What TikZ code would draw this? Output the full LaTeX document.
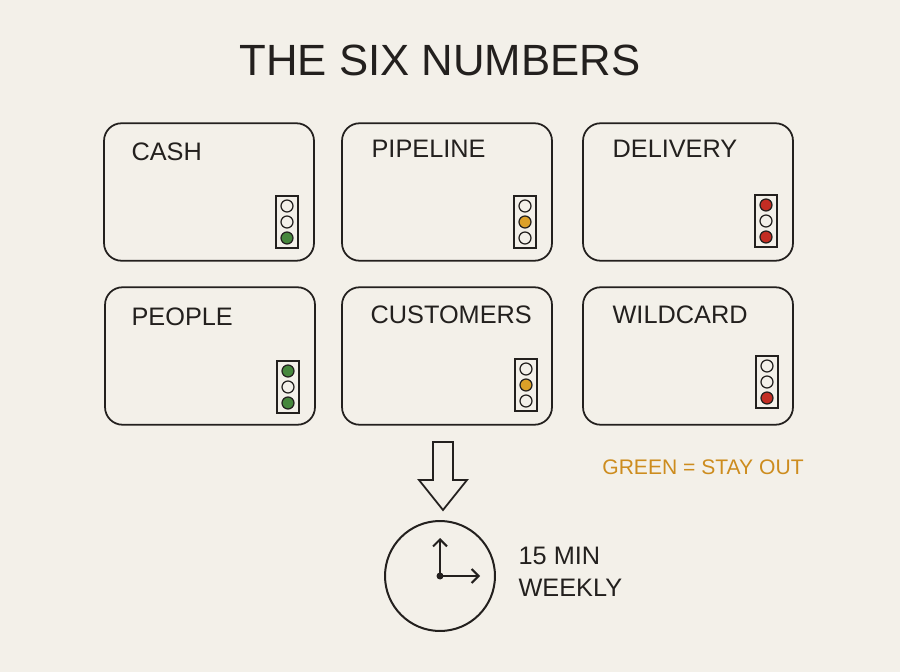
\documentclass[tikz,border=0pt]{standalone}
\usepackage{fontspec}
\setmainfont{Liberation Sans}
\usetikzlibrary{positioning,arrows.meta}
\definecolor{paper}{RGB}{243,240,233}
\definecolor{ink}{RGB}{35,32,30}
\definecolor{go}{RGB}{70,135,60}
\definecolor{amber}{RGB}{220,160,40}
\definecolor{stop}{RGB}{195,45,35}
\definecolor{note}{RGB}{205,140,30}
\begin{document}
\begin{tikzpicture}[
	x=0.02cm, y=-0.02cm,
	line width=0.3mm,
	every node/.style={text=ink},
	card/.style={draw=ink, rounded corners=10pt, minimum width=4.2cm, minimum height=2.75cm, line width=0.35mm},
	lamp/.style={draw=ink, minimum width=0.44cm, minimum height=1.05cm, line width=0.3mm},
	bulb/.style={circle, draw=ink, fill=#1, inner sep=0pt, minimum size=0.24cm, line width=0.25mm},
	bulb/.default=paper,
	caption/.style={font=\Large, anchor=west}
	]
    \fill[paper] (0,0) rectangle (900,672);
    % title
    \node[font=\huge, scale=1.2] (title) at (440,60) {THE SIX NUMBERS};

    % cards
    \node[card] (cash) at (209,192) {};
    \node[card] (pipe) at (447,192) {};
    \node[card] (deli) at (688,192) {};
    \node[card] (peop) at (210,356) {};
    \node[card] (cust) at (447,356) {};
    \node[card] (wild) at (688,356) {};
    \node[caption] at (125,152) {CASH};
    \node[caption] at (365,149) {PIPELINE};
    \node[caption] at (606,149) {DELIVERY};
    \node[caption] at (125,317) {PEOPLE};
    \node[caption] at (364,315) {CUSTOMERS};
    \node[caption] at (606,315) {WILDCARD};

    % traffic lights
    \foreach \n/\x/\y/\a/\b/\c in {
      cashl/287/222/paper/paper/go,
      pipel/525/222/paper/amber/paper,
      delil/766/221/stop/paper/stop,
      peopl/288/387/go/paper/go,
      custl/526/385/paper/amber/paper,
      wildl/767/382/paper/paper/stop}{
      \node[lamp] (\n) at (\x,\y) {};
      \node[bulb=\a] at (\x,\y-16) {};
      \node[bulb=\b] at (\x,\y) {};
      \node[bulb=\c] at (\x,\y+16) {};
    }

    % arrow down to clock
    \draw[ink, line width=0.35mm] (433,442) -- (453,442) -- (453,480) -- (467,480)
      -- (443,510) -- (419,480) -- (433,480) -- cycle;
    \node[circle, draw=ink, minimum size=2.2cm, line width=0.4mm] (clock) at (440,576) {};
    \draw[ink, line width=0.4mm, -{Straight Barb[length=4pt]}] (clock.center) -- ++(0,-38);
    \draw[ink, line width=0.4mm, -{Straight Barb[length=4pt]}] (clock.center) -- ++(40,0);
    \fill[ink] (clock.center) circle (3.5);
    \node[font=\Large, align=left, anchor=west] (when) at (512,572) {15 MIN\\WEEKLY};
    \node[font=\large, text=note] (legend) at (703,467) {GREEN = STAY OUT};
\end{tikzpicture}
\end{document}
